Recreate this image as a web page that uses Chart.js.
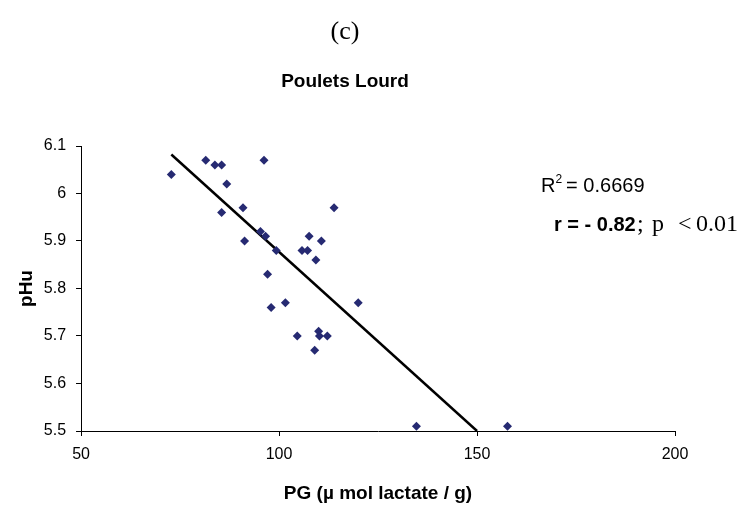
<!DOCTYPE html>
<html>
<head>
<meta charset="utf-8">
<script src="https://cdn.jsdelivr.net/npm/chart.js@4/dist/chart.umd.min.js"></script>
<style>
html,body{margin:0;padding:0;background:#fff;}
#wrap{width:746px;height:505px;}
</style>
</head>
<body>
<div id="wrap"><canvas id="c" width="746" height="505"></canvas></div>
<script>
// Data
const pgValues = [72.8, 81.5, 83.8, 85.5, 86.8, 85.5, 90.9, 91.3, 96.2, 95.3, 96.6, 99.3, 97.1, 98.0, 101.6, 105.8, 107.2, 107.6, 110.7, 109.3, 113.9, 120.0, 104.6, 110.0, 110.2, 112.2, 109.0, 134.7, 157.7];
const phuValues = [6.04, 6.07, 6.06, 6.06, 6.02, 5.96, 5.97, 5.90, 6.07, 5.92, 5.91, 5.88, 5.83, 5.76, 5.77, 5.88, 5.88, 5.91, 5.90, 5.86, 5.97, 5.77, 5.70, 5.71, 5.70, 5.70, 5.67, 5.51, 5.51];
const trendX = [72.8, 150];
const trendY = [6.082, 5.5];
const xTicks = [50, 100, 150, 200];
const yTicks = [5.5, 5.6, 5.7, 5.8, 5.9, 6.0, 6.1];

const points = pgValues.map((v, i) => ({x: v, y: phuValues[i]}));
const trend = trendX.map((v, i) => ({x: v, y: trendY[i]}));

const SANS = '"Liberation Sans", Arial, sans-serif';
const SERIF = '"Liberation Serif", "Times New Roman", serif';

const annot = {
  id: 'annot',
  afterDraw(chart) {
    const ctx = chart.ctx;
    ctx.save();
    ctx.fillStyle = '#000';
    ctx.textBaseline = 'alphabetic';
    // R^2 line
    ctx.font = '20px ' + SANS;
    let x = 541, y = 192;
    ctx.fillText('R', x, y);
    x += ctx.measureText('R').width;
    ctx.font = '12px ' + SANS;
    ctx.fillText('2', x, y - 9);
    x += ctx.measureText('2').width + 4;
    ctx.font = '20px ' + SANS;
    ctx.fillText('= 0.6669', x, y);
    // r line
    y = 231;
    ctx.font = 'bold 20px ' + SANS;
    ctx.fillText('r = - 0.82', 554, y);
    ctx.font = '24px ' + SERIF;
    ctx.fillText(';', 637, y);
    ctx.fillText('p', 652, y);
    ctx.fillText('<', 678, y);
    ctx.fillText('0.01', 696, y);
    ctx.restore();
  }
};

new Chart(document.getElementById('c'), {
  type: 'scatter',
  data: {
    datasets: [
      {
        label: 'pHu',
        data: points,
        pointStyle: 'rectRot',
        pointRadius: 4.5,
        pointHoverRadius: 4.5,
        backgroundColor: '#262a72',
        borderColor: '#262a72',
        borderWidth: 0
      },
      {
        type: 'line',
        label: 'trend',
        data: trend,
        borderColor: '#000',
        borderWidth: 2.5,
        pointRadius: 0,
        fill: false
      }
    ]
  },
  options: {
    responsive: false,
    animation: false,
    layout: {padding: {left: 15, right: 71, top: 0, bottom: 0}},
    plugins: {
      legend: {display: false},
      tooltip: {enabled: false},
      title: {
        display: true,
        text: '(c)',
        color: '#000',
        font: {family: SERIF, size: 26, weight: 'normal'},
        padding: {top: 17, bottom: 22}
      },
      subtitle: {
        display: true,
        text: 'Poulets Lourd',
        color: '#000',
        font: {family: SANS, size: 19, weight: 'bold'},
        padding: {top: 0, bottom: 53}
      }
    },
    scales: {
      x: {
        type: 'linear',
        min: 50, max: 200,
        afterBuildTicks(axis) { axis.ticks = xTicks.map(v => ({value: v})); },
        grid: {drawOnChartArea: false, drawTicks: true, tickLength: 5, color: '#000'},
        border: {display: true, color: '#000', width: 1},
        ticks: {color: '#000', font: {family: SANS, size: 16}, padding: 9, maxRotation: 0},
        title: {display: true, text: 'PG (µ mol lactate / g)', color: '#000',
          font: {family: SANS, size: 19, weight: 'bold'}, padding: {top: 9, bottom: 0}}
      },
      y: {
        type: 'linear',
        min: 5.5, max: 6.1,
        afterBuildTicks(axis) { axis.ticks = yTicks.map(v => ({value: v})); },
        grid: {drawOnChartArea: false, drawTicks: true, tickLength: 5, color: '#000'},
        border: {display: true, color: '#000', width: 1},
        ticks: {color: '#000', font: {family: SANS, size: 16}, padding: 10,
          callback: v => String(Math.round(v * 10) / 10)},
        title: {display: true, text: 'pHu', color: '#000',
          font: {family: SANS, size: 19, weight: 'bold'}, padding: {top: 0, bottom: -4}}
      }
    }
  },
  plugins: [annot]
});
</script>
</body>
</html>
